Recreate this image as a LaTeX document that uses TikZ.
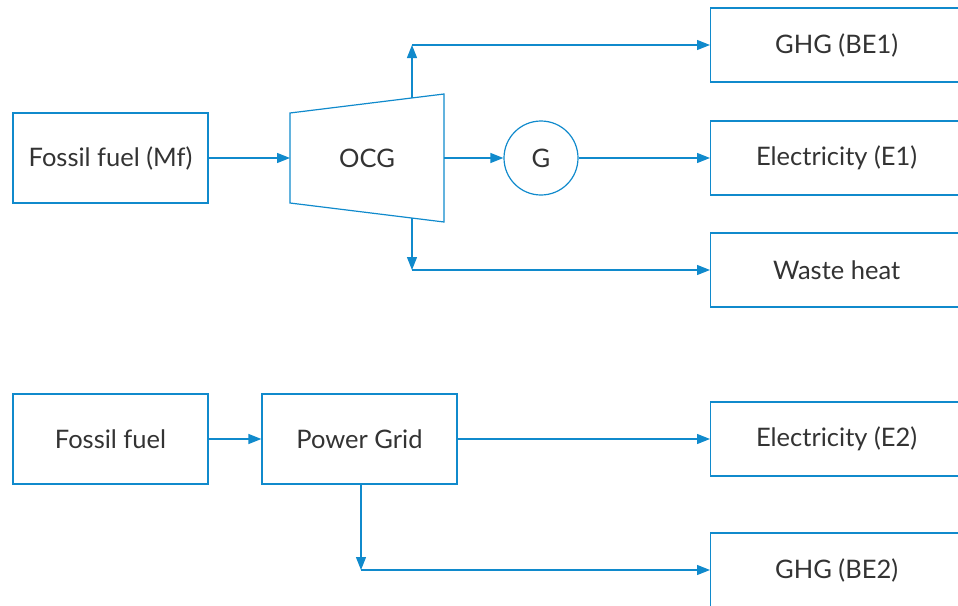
\documentclass[tikz,border=0pt]{standalone}
\usepackage{fontspec}
\setmainfont{Lato}
\usetikzlibrary{arrows.meta}
\definecolor{flow}{RGB}{16,138,204}
\definecolor{txt}{RGB}{51,51,51}
\tikzset{
  box/.style={draw=flow, line width=1.2pt, text=txt, minimum width=195pt, minimum height=90pt, inner sep=0pt},
  outbox/.style={box, minimum width=252pt, minimum height=74pt, anchor=west},
  flowarrow/.style={draw=flow, line width=1.2pt, -{Triangle[length=13pt,width=10pt]}},
}
\begin{document}
\begin{tikzpicture}[x=1pt,y=-1pt,font=\fontsize{25.5}{30}\selectfont]
\useasboundingbox (0,0) rectangle (958,605);

% Turbine route
\node[box] (fuel1) at (110.5,158) {Fossil fuel (Mf)};
\coordinate (tA) at (290,113);
\coordinate (tB) at (444,94);
\coordinate (tC) at (444,222);
\coordinate (tD) at (290,203);
\draw[draw=flow, line width=1.2pt] (tA) -- (tB) -- (tC) -- (tD) -- cycle;
\node[text=txt] (ocg) at (367,158) {OCG};
\node[draw=flow, line width=1.2pt, circle, minimum size=74pt, inner sep=0pt, text=txt] (gen) at (541,158) {G};
\node[outbox] (ghg1) at (710,45) {GHG (BE1)};
\node[outbox] (el1) at (710,158) {Electricity (E1)};
\node[outbox] (heat) at (710,270) {Waste heat};

\coordinate (up) at (412,98);
\coordinate (down) at (412,218);
\draw[flowarrow] (fuel1) -- (tA|-fuel1);
\draw[flowarrow] (tB|-gen) -- (gen);
\draw[flowarrow] (gen) -- (el1);
\draw[flowarrow] (up) -- (up|-ghg1);
\draw[flowarrow] (up|-ghg1) -- (ghg1);
\draw[flowarrow] (down) -- (down|-heat);
\draw[flowarrow] (down|-heat) -- (heat);

% Grid route
\node[box] (fuel2) at (110.5,439) {Fossil fuel};
\node[box] (grid) at (359.5,439) {Power Grid};
\node[outbox] (el2) at (710,439) {Electricity (E2)};
\node[outbox] (ghg2) at (710,570) {GHG (BE2)};
\coordinate (tap) at (361,484);

\draw[flowarrow] (fuel2) -- (grid);
\draw[flowarrow] (grid) -- (el2);
\draw[flowarrow] (tap) -- (tap|-ghg2);
\draw[flowarrow] (tap|-ghg2) -- (ghg2);
\end{tikzpicture}
\end{document}
